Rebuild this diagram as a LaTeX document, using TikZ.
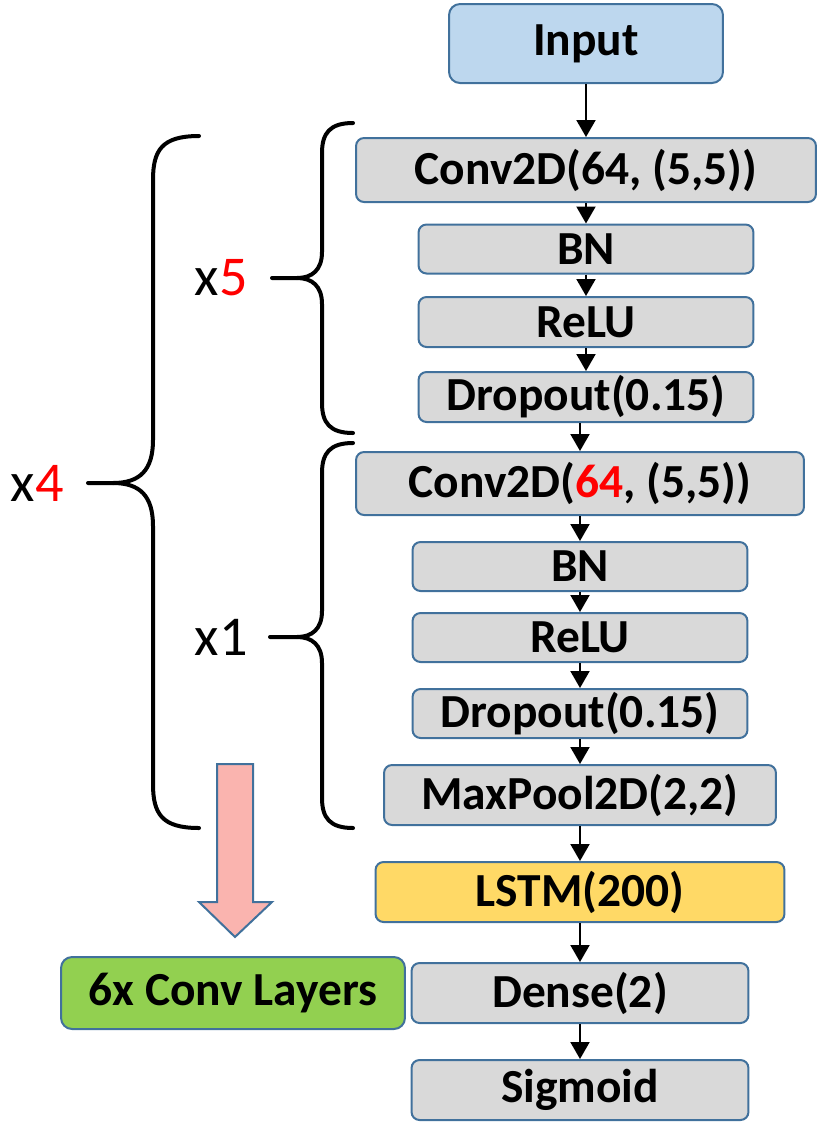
\documentclass[tikz,border=0pt]{standalone}
\usepackage{fontspec}
\setmainfont{Carlito}
\usetikzlibrary{arrows.meta, positioning}
\definecolor{edgeblue}{RGB}{65,113,156}
\definecolor{laygray}{RGB}{217,217,217}
\definecolor{inpblue}{RGB}{189,215,238}
\definecolor{lstmgold}{RGB}{255,217,102}
\definecolor{convgreen}{RGB}{146,208,80}
\definecolor{arrowpink}{RGB}{250,180,175}
\definecolor{repred}{RGB}{255,0,0}
\tikzset{
  layer/.style={rectangle, draw=edgeblue, fill=laygray, rounded corners=0.16cm,
    line width=0.04cm, inner sep=0pt, align=center,
    font=\fontsize{27}{31}\selectfont\bfseries},
  inblock/.style={layer, fill=inpblue, rounded corners=0.22cm},
  lstmblock/.style={layer, fill=lstmgold},
  convblock/.style={layer, fill=convgreen, rounded corners=0.22cm},
  replbl/.style={inner sep=0pt, font=\fontsize{32}{37}\selectfont},
  brace/.style={line width=0.08cm, line cap=round, color=black},
  arrow/.style={-{Triangle[length=0.34cm, width=0.38cm]}, line width=0.04cm, color=black},
  bigarrow/.style={draw=edgeblue, fill=arrowpink, line width=0.04cm, line join=miter}
}

\begin{document}
\begin{tikzpicture}[x=0.02cm, y=-0.02cm]
  \useasboundingbox (0,0) rectangle (830,1134);

  % Layer stack
  \node[inblock, minimum width=5.48cm, minimum height=1.58cm] (inp) at (586,43.5) {Input};
  \node[layer, minimum width=9.2cm, minimum height=1.28cm] (conva) at (586,170) {Conv2D(64, (5,5))};
  \node[layer, minimum width=6.7cm, minimum height=0.98cm] (bna) at (586,249) {BN};
  \node[layer, minimum width=6.7cm, minimum height=1.0cm] (relua) at (586,322) {ReLU};
  \node[layer, minimum width=6.7cm, minimum height=1.0cm] (dropa) at (586,397) {Dropout(0.15)};
  \node[layer, minimum width=8.96cm, minimum height=1.26cm] (convb) at (580,483.5) {Conv2D(\textcolor{repred}{64}, (5,5))};
  \node[layer, minimum width=6.7cm, minimum height=0.98cm] (bnb) at (580,566.5) {BN};
  \node[layer, minimum width=6.7cm, minimum height=0.98cm] (relub) at (580,637.5) {ReLU};
  \node[layer, minimum width=6.7cm, minimum height=0.98cm] (dropb) at (580,713.5) {Dropout(0.15)};
  \node[layer, minimum width=7.84cm, minimum height=1.2cm] (pool) at (580,795) {MaxPool2D(2,2)};
  \node[lstmblock, minimum width=8.18cm, minimum height=1.2cm] (lstm) at (580,892) {LSTM(200)};
  \node[layer, minimum width=6.74cm, minimum height=1.2cm] (dense) at (580,993) {Dense(2)};
  \node[layer, minimum width=6.74cm, minimum height=1.2cm] (sig) at (580,1090) {Sigmoid};
  \node[convblock, minimum width=6.88cm, minimum height=1.44cm] (sixconv) at (233,993) {6x Conv Layers};

  % Flow
  \draw[arrow] (inp) -- (conva);
  \draw[arrow] (conva) -- (bna);
  \draw[arrow] (bna) -- (relua);
  \draw[arrow] (relua) -- (dropa);
  \draw[arrow] (dropa.south -| convb.north) -- (convb.north);
  \draw[arrow] (convb) -- (bnb);
  \draw[arrow] (bnb) -- (relub);
  \draw[arrow] (relub) -- (dropb);
  \draw[arrow] (dropb) -- (pool);
  \draw[arrow] (pool) -- (lstm);
  \draw[arrow] (lstm) -- (dense);
  \draw[arrow] (dense) -- (sig);

  % Braces
  \coordinate (tip4) at (88,483);
  \coordinate (tip5) at (272,278);
  \coordinate (tip1) at (270,637);
  \draw[brace] (199,136) .. controls (162,136) and (153,150) .. (153,180) -- (153,440)
    .. controls (153,470) and (140,483) .. (113,483) -- (tip4);
  \draw[brace] (113,483) .. controls (140,483) and (153,496) .. (153,526) -- (153,784)
    .. controls (153,814) and (162,828) .. (199,828);
  \draw[brace] (353,123) .. controls (330,123) and (322,133) .. (322,153) -- (322,252)
    .. controls (322,270) and (312,278) .. (297,278) -- (tip5);
  \draw[brace] (297,278) .. controls (312,278) and (322,286) .. (322,304) -- (322,403)
    .. controls (322,423) and (330,433) .. (353,433);
  \draw[brace] (353,443) .. controls (330,443) and (322,453) .. (322,473) -- (322,611)
    .. controls (322,629) and (312,637) .. (297,637) -- (tip1);
  \draw[brace] (297,637) .. controls (312,637) and (322,645) .. (322,663) -- (322,798)
    .. controls (322,818) and (330,828) .. (353,828);

  \node[replbl, left=0.48cm of tip4] (rep4) {x\textcolor{repred}{4}};
  \node[replbl, left=0.48cm of tip5] (rep5) {x\textcolor{repred}{5}};
  \node[replbl, left=0.44cm of tip1] (rep1) {x1};

  % Pink arrow to the conv summary
  \draw[bigarrow] (217,764) -- (253,764) -- (253,902) -- (272,902) -- (235,937)
    -- (199,902) -- (217,902) -- cycle;
\end{tikzpicture}
\end{document}
